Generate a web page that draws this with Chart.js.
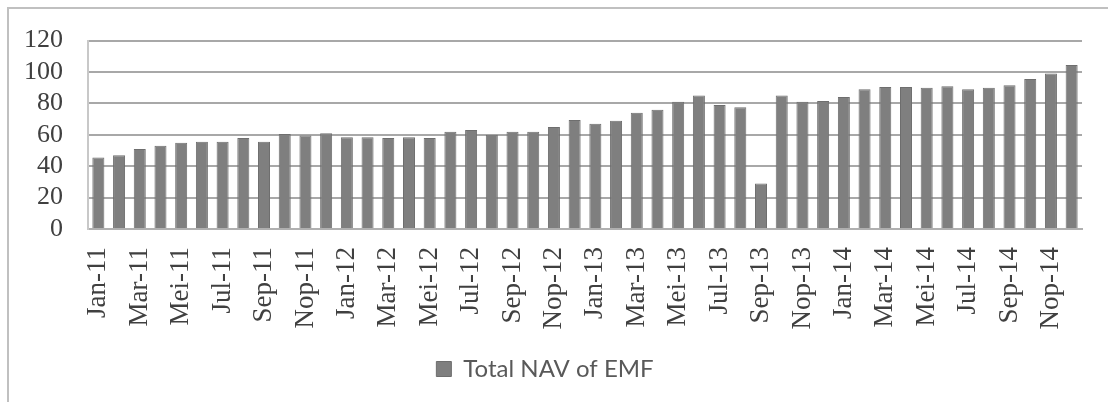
<!DOCTYPE html>
<html>
<head>
<meta charset="utf-8">
<script src="https://cdn.jsdelivr.net/npm/chart.js"></script>
<style>
  html, body { margin: 0; padding: 0; background: #ffffff; }
  #wrap { position: relative; width: 1108px; height: 402px; overflow: hidden; }
  #frame { position: absolute; left: 7px; top: 7px; width: 1110px; height: 400px;
           border-top: 2px solid #c0c0c0; border-left: 2px solid #c0c0c0; }
  canvas { position: absolute; left: 0; top: 0; }
</style>
</head>
<body>
<div id="wrap">
  <div id="frame"></div>
  <canvas id="c" width="1108" height="402"></canvas>
</div>
<script>
const months = ['Jan','Feb','Mar','Apr','Mei','Jun','Jul','Agu','Sep','Okt','Nop','Des'];
const years = ['11','12','13','14'];
const categories = [];
years.forEach(y => months.forEach(m => categories.push(m + '-' + y)));

const navValues = [
  45.5, 47, 51, 53, 55, 55.5, 55.5, 58, 55.5, 60.5, 59.5, 61,
  58.5, 58.5, 58, 58.5, 58, 62, 63, 60, 62, 62, 65, 69.5,
  67, 69, 74, 76, 81, 85, 79, 77.5, 29, 85, 81, 81.5,
  84, 89, 90.5, 90.5, 90, 91, 89, 90, 91.5, 95.5, 99, 104.5
];
const yTicks = [0, 20, 40, 60, 80, 100, 120];
const seriesName = 'Total NAV of EMF';

new Chart(document.getElementById('c'), {
  type: 'bar',
  data: {
    labels: categories,
    datasets: [{
      label: seriesName,
      data: navValues,
      backgroundColor: '#7f7f7f',
      borderColor: '#6e6e6e',
      borderWidth: 1,
      categoryPercentage: 0.58,
      barPercentage: 1.0
    }]
  },
  options: {
    responsive: false,
    animation: false,
    layout: { padding: { top: 35, left: 8, right: 26, bottom: 11 } },
    plugins: {
      tooltip: { enabled: false },
      legend: {
        position: 'bottom',
        labels: {
          boxWidth: 15, boxHeight: 15,
          color: '#595959',
          font: { family: 'Lato', size: 24 },
          padding: 10
        }
      }
    },
    scales: {
      x: {
        grid: { display: false, drawTicks: false },
        border: { display: true, color: '#b0b0b0', width: 2 },
        ticks: {
          autoSkip: false,
          maxRotation: 90, minRotation: 90,
          padding: 18,
          color: '#404040',
          font: { family: 'Liberation Serif', size: 27 },
          callback: function(v, i) { return i % 2 === 0 ? this.getLabelForValue(v) : ''; }
        },
        afterFit: s => { s.height = 118; s.paddingLeft = 0; s.paddingRight = 0; }
      },
      y: {
        min: 0, max: 120,
        afterBuildTicks: s => { s.ticks = yTicks.map(v => ({ value: v })); },
        grid: { color: '#a8a8a8', lineWidth: 2, drawTicks: false },
        border: { display: true, color: '#c8c8c8', width: 2 },
        ticks: {
          autoSkip: false,
          padding: 25,
          color: '#404040',
          font: { family: 'Liberation Serif', size: 26 }
        },
        afterFit: s => { s.width = 80; }
      }
    }
  }
});
</script>
</body>
</html>
